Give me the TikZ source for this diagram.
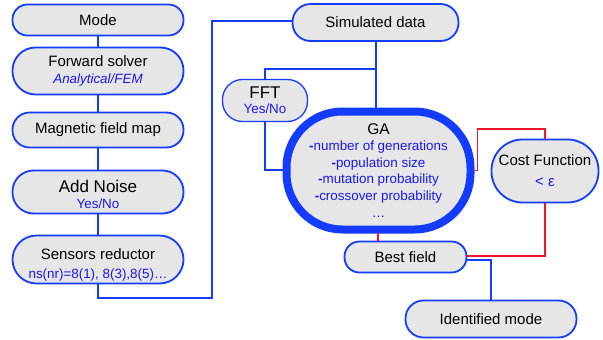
\documentclass[tikz,border=0pt]{standalone}
\usepackage{fontspec}
\setmainfont{Liberation Sans}
\usetikzlibrary{calc}
\definecolor{bblue}{RGB}{20,60,255}
\definecolor{bgray}{RGB}{230,230,230}
\definecolor{tblue}{RGB}{25,25,235}
\definecolor{rred}{RGB}{245,20,40}
\newcommand{\subt}[1]{{\fontsize{13.4}{16}\selectfont\color{tblue}#1}}
\tikzset{
  box/.style={draw=bblue, fill=bgray, line width=1.8pt, rounded corners=#1,
    inner sep=0pt, align=center, font=\fontsize{15}{18}\selectfont, text=black},
  conn/.style={draw=bblue, line width=1.8pt},
  rconn/.style={draw=rred, line width=1.8pt},
}
\begin{document}
\begin{tikzpicture}[x=1pt,y=-1pt]
\useasboundingbox (0,0) rectangle (603,340);
% left column
\node[box=15pt, minimum width=171pt, minimum height=31pt] (mode) at (98,20) {Mode};
\node[box=23pt, minimum width=171pt, minimum height=47pt] (fwd) at (98,71)
  {Forward solver\\[-1pt]\subt{\itshape Analytical/FEM}};
\node[box=17pt, minimum width=171pt, minimum height=35pt] (mag) at (98,130) {Magnetic field map};
\node[box=21pt, minimum width=171pt, minimum height=43pt] (noise) at (98,192)
  {\rule{0pt}{18pt}{\fontsize{17}{19}\selectfont Add Noise}\\[-2pt]\subt{Yes/No}};
\node[box=24pt, minimum width=171pt, minimum height=48pt] (sens) at (98,259.5)
  {\rule{0pt}{21pt}Sensors reductor\\[1pt]\subt{ns(nr)=8(1), 8(3),8(5)…}};
% right part
\node[box=18pt, minimum width=166pt, minimum height=37pt] (sim) at (375.5,22.5) {Simulated data};
\node[box=20pt, minimum width=85pt, minimum height=42pt, line width=1.3pt] (fft) at (265,100.5)
  {{\fontsize{17}{19}\selectfont FFT}\\[-3pt]\subt{Yes/No}};
\node[box=56pt, minimum width=184pt, minimum height=118pt, line width=8pt] (ga) at (378.5,170.5)
  {{\fontsize{15.5}{18}\selectfont GA}\\[-2pt]
   \subt{\textbf{-}number of generations}\\[-1.5pt]
   \subt{\textbf{-}population size}\\[-1.5pt]
   \subt{\textbf{-}mutation probability}\\[-1.5pt]
   \subt{\textbf{-}crossover probability}\\[-1pt]
   \subt{…}};
\node[box=31pt, minimum width=107pt, minimum height=63pt] (cost) at (545,171)
  {Cost Function\\[3pt]{\fontsize{15}{16}\selectfont\color{tblue}< ε}};
\node[box=15pt, minimum width=122pt, minimum height=31pt] (best) at (405.5,257) {Best field};
\node[box=18pt, minimum width=171pt, minimum height=37pt] (ident) at (491,319) {Identified mode};
% coordinates
\coordinate (c1) at (98,298);
\coordinate (c2) at (212,298);
\coordinate (c3) at (212,21);
\coordinate (br) at (376,69);
\coordinate (fb) at (265,170);
\coordinate (gb) at (378,233);
% blue connectors
\draw[conn] (mode) -- (fwd);
\draw[conn] (fwd) -- (mag);
\draw[conn] (mag) -- (noise);
\draw[conn] (noise) -- (sens);
\draw[conn] (sens.south) -- (c1) -- (c2) -- (c3) -- (c3 -| sim.west);
\draw[conn] (sim.south -| br) -- (ga.north -| br);
\draw[conn] (br) -- (br -| fft.north) -- (fft.north);
\draw[conn] (fft.south) -- (fb) -- (fb -| ga.west);
\draw[conn] ([yshift=-3pt]best.east) -| (ident.north -| 491,0);
% red connectors
\draw[rconn] (ga.east) -- ++(3,0) |- (545,129) -- (cost.north);
\draw[rconn] (cost.south) |- ([yshift=1pt]best.east);
\draw[rconn] (gb) -- (gb |- best.north);
\end{tikzpicture}
\end{document}
